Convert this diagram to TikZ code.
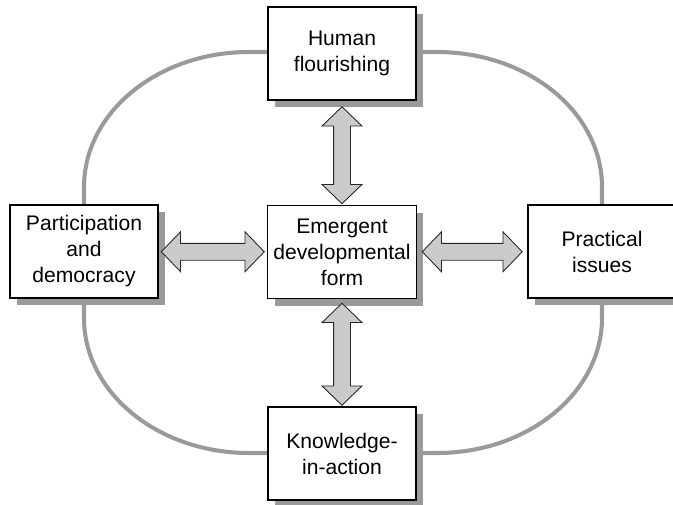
\documentclass[tikz,border=0pt]{standalone}
\usepackage{fontspec}
\setmainfont{Liberation Sans}
\usepackage{tikz}
\usetikzlibrary{shapes.arrows,shadows,calc}
\definecolor{loopgray}{HTML}{9A9A9A}
\definecolor{arrowgray}{HTML}{CBCBCB}
\tikzset{
        box/.style={rectangle, draw, line width=0.6pt, fill=white,
            minimum width=2.96cm, minimum height=1.86cm, align=center,
            font=\fontsize{12}{14.8}\selectfont,
            drop shadow={shadow xshift=.14cm, shadow yshift=-.14cm,
                fill=loopgray, opacity=1}},
        dblarrow/.style={double arrow, draw=black!85, line width=0.5pt,
            fill=arrowgray, inner xsep=0pt, inner ysep=0.16cm,
            minimum width=0.78cm, minimum height=2cm,
            double arrow head extend=0.23cm, double arrow tip angle=92},
        loopline/.style={draw=loopgray, line width=2.3pt}
    }

\begin{document}
\begin{tikzpicture}[scale=1]

\useasboundingbox (0,0) rectangle (13.46,-10.08);

% outer loop
\draw[loopline] (1.68,-3.74) arc[start angle=180, end angle=90, x radius=3.3, y radius=2.7]
    -- (8.74,-1.04) arc[start angle=90, end angle=0, x radius=3.3, y radius=2.7]
    -- (12.04,-6.36) arc[start angle=0, end angle=-90, x radius=3.3, y radius=2.7]
    -- (4.98,-9.06) arc[start angle=-90, end angle=-180, x radius=3.3, y radius=2.7]
    -- cycle;

\draw (6.84,-1.07) node(HUMAN)[box]{Human\\flourishing};
\draw (1.68,-5.03) node(PART)[box]{Participation\\and\\democracy};
\draw (6.84,-5.04) node(EMERG)[box]{Emergent\\developmental\\form};
\draw (12.04,-5.03) node(PRACT)[box]{Practical\\issues};
\draw (6.84,-9.07) node(KNOW)[box]{Knowledge-\\in-action};

\draw ($(PART.east)!.5!(EMERG.west)$) node(ARRL)[dblarrow, minimum height=2.06cm]{};
\draw ($(EMERG.east)!.5!(PRACT.west)$) node(ARRR)[dblarrow]{};
\draw ($(HUMAN.south)!.5!(EMERG.north)+(0,-.05)$) node(ARRU)[dblarrow, rotate=90, minimum height=1.94cm]{};
\draw ($(EMERG.south)!.5!(KNOW.north)+(0,-.03)$) node(ARRD)[dblarrow, rotate=90, minimum height=2.04cm]{};

%\draw[thick] (ARRU) -- (ARRD);

\end{tikzpicture}
\end{document}
